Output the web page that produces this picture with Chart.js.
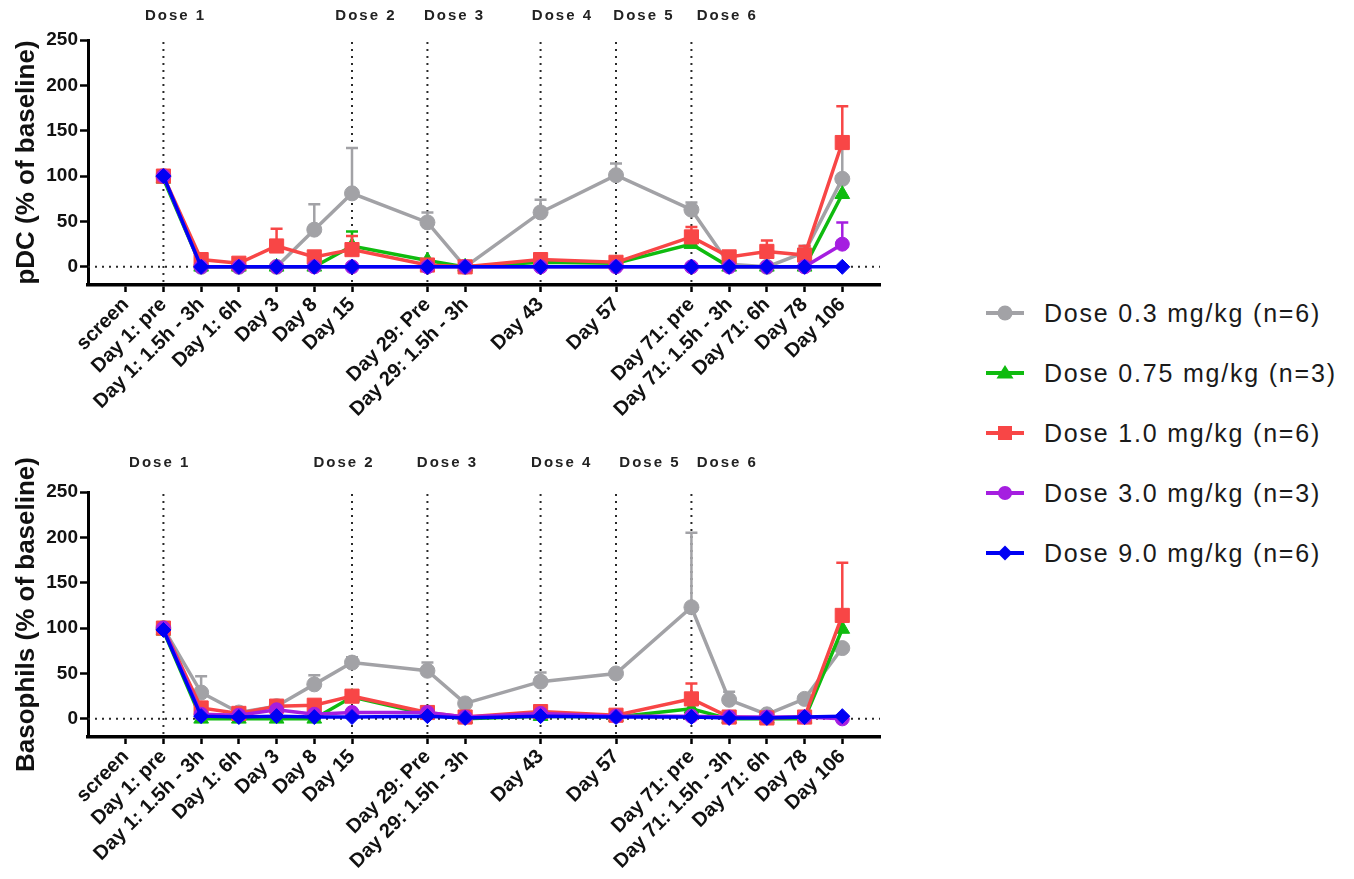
<!DOCTYPE html>
<html>
<head>
<meta charset="utf-8">
<title>pDC and Basophils</title>
<script src="https://cdn.jsdelivr.net/npm/chart.js@4.4.0/dist/chart.umd.min.js"></script>
<style>
    body { margin: 0; background: #fff; width: 1354px; height: 879px; position: relative; overflow: hidden;
           font-family: "Liberation Sans", Arial, sans-serif; }
    .panel { position: absolute; left: 0; }
    #legend { position: absolute; left: 986px; top: 283px; }
    .item { display: flex; align-items: center; height: 60px; font-size: 25px; letter-spacing: 1.8px; color: #1a1a1a; }
    .item svg { margin-right: 20px; }
</style>
</head>
<body>
<canvas id="pdc" class="panel" width="900" height="452" style="top:0"></canvas>
<canvas id="baso" class="panel" width="900" height="427" style="top:452px"></canvas>
<div id="legend"></div>

<script>
// x axis slots (blank ones are spacers)
const categories = ['', 'screen', 'Day 1: pre', 'Day 1: 1.5h - 3h', 'Day 1: 6h', 'Day 3', 'Day 8', 'Day 15', '',
    'Day 29: Pre', 'Day 29: 1.5h - 3h', '', 'Day 43', '', 'Day 57', '', 'Day 71: pre', 'Day 71: 1.5h - 3h',
    'Day 71: 6h', 'Day 78', 'Day 106', ''];

// timepoints that have values
const sampled = ['Day 1: pre', 'Day 1: 1.5h - 3h', 'Day 1: 6h', 'Day 3', 'Day 8', 'Day 15', 'Day 29: Pre',
    'Day 29: 1.5h - 3h', 'Day 43', 'Day 57', 'Day 71: pre', 'Day 71: 1.5h - 3h', 'Day 71: 6h', 'Day 78', 'Day 106'];

const doses = ['Dose 0.3 mg/kg (n=6)', 'Dose 0.75 mg/kg (n=3)', 'Dose 1.0 mg/kg (n=6)',
    'Dose 3.0 mg/kg (n=3)', 'Dose 9.0 mg/kg (n=6)'];

const doseDays = ['Day 1: pre', 'Day 15', 'Day 29: Pre', 'Day 43', 'Day 57', 'Day 71: pre'];
const doseNames = ['Dose 1', 'Dose 2', 'Dose 3', 'Dose 4', 'Dose 5', 'Dose 6'];

const yTicks = [0, 50, 100, 150, 200, 250];

// pDC (% of baseline), mean and upper SEM
const pdc03 = [100, 0, 0, 0, 41, 81, 49, 0, 60, 101, 63, 3, 0, 16, 97];
const pdc03Sem = [0, 0, 0, 0, 28, 50, 11, 0, 14, 13, 8, 0, 0, 7, 40];
const pdc075 = [97, 0, 0, 0, 0, 23, 7, 0, 5, 4, 25, 0, 0, 0, 80];
const pdc075Sem = [0, 0, 0, 0, 0, 16, 0, 0, 0, 0, 5, 0, 0, 0, 0];
const pdc10 = [100, 8, 4, 23, 11, 19, 2, 0, 8, 5, 33, 11, 17, 13, 137];
const pdc10Sem = [0, 0, 0, 19, 0, 15, 0, 0, 0, 0, 11, 0, 12, 10, 40];
const pdc30 = [100, 0, 0, 0, 0, 0, 0, 0, 0, 0, 0, 0, 0, 0, 25];
const pdc30Sem = [0, 0, 0, 0, 0, 0, 0, 0, 0, 0, 0, 0, 0, 0, 24];
const pdc90 = [100, 0, 0, 0, 0, 0, 0, 0, 0, 0, 0, 0, 0, 0, 0];
const pdc90Sem = [0, 0, 0, 0, 0, 0, 0, 0, 0, 0, 0, 0, 0, 0, 0];

// Basophils (% of baseline), mean and upper SEM
const baso03 = [100, 29, 7, 14, 38, 62, 53, 17, 41, 50, 123, 21, 5, 22, 78];
const baso03Sem = [0, 18, 0, 0, 10, 6, 9, 0, 10, 0, 82, 9, 0, 4, 0];
const baso075 = [97, 0, 0, 0, 0, 24, 5, 0, 3, 2, 11, 0, 0, 0, 99];
const baso075Sem = [0, 0, 0, 0, 0, 0, 0, 0, 0, 0, 0, 0, 0, 0, 0];
const baso10 = [100, 12, 6, 14, 15, 25, 7, 2, 8, 4, 22, 2, 1, 2, 114];
const baso10Sem = [0, 0, 0, 0, 0, 0, 0, 0, 0, 0, 17, 0, 0, 0, 58];
const baso30 = [100, 5, 4, 10, 5, 7, 7, 2, 6, 3, 3, 2, 2, 2, 0];
const baso30Sem = [0, 0, 0, 0, 0, 0, 0, 0, 0, 0, 0, 0, 0, 0, 0];
const baso90 = [98, 3, 2, 3, 2, 2, 3, 1, 3, 2, 2, 1, 1, 2, 3];
const baso90Sem = [0, 0, 0, 0, 0, 0, 0, 0, 0, 0, 0, 0, 0, 0, 0];

const colors = ['#a2a2a6', '#0fbb0f', '#f84646', '#a51ee0', '#0000f4'];
const shapes = ['circle', 'triangle', 'rect', 'circle', 'rectRot'];
const radii = [7.5, 8.5, 10, 7, 7.5];
const FONT = '"Liberation Sans", Arial, sans-serif';

// put sampled values onto the axis slots
function spread(vals) {
    return categories.map(c => {
        const k = sampled.indexOf(c);
        return k < 0 ? null : vals[k];
    });
}

// dotted reference lines + dose labels
const overlayPlugin = {
    id: 'overlay',
    beforeDatasetsDraw(chart, args, opts) {
        const { ctx, chartArea, scales: { x, y } } = chart;
        ctx.save();
        ctx.strokeStyle = '#2a2a2a';
        ctx.lineWidth = 2;
        ctx.setLineDash([2, 5]);
        const y0 = y.getPixelForValue(0);
        ctx.beginPath();
        ctx.moveTo(chartArea.left, y0);
        ctx.lineTo(chartArea.right, y0);
        ctx.stroke();
        doseDays.forEach(d => {
            const px = x.getPixelForValue(categories.indexOf(d));
            ctx.beginPath();
            ctx.moveTo(px, chartArea.top + 2);
            ctx.lineTo(px, chartArea.bottom);
            ctx.stroke();
        });
        ctx.restore();
    },
    afterDraw(chart, args, opts) {
        const { ctx, scales: { x } } = chart;
        ctx.save();
        ctx.fillStyle = '#222';
        ctx.font = 'bold 15px ' + FONT;
        ctx.letterSpacing = '2px';
        ctx.textAlign = 'center';
        ctx.textBaseline = 'middle';
        doseDays.forEach((d, i) => {
            const px = x.getPixelForValue(categories.indexOf(d) + opts.shift[i]);
            ctx.fillText(doseNames[i], px, opts.labelY);
        });
        ctx.restore();
    }
};

// upper error bars, drawn under each dataset's own line
const errorBarPlugin = {
    id: 'errorBars',
    beforeDatasetDraw(chart, args) {
        const ds = chart.data.datasets[args.index];
        if (!ds.sem) return;
        const { ctx, scales: { y } } = chart;
        ctx.save();
        ctx.strokeStyle = ds.borderColor;
        ctx.lineWidth = 2.5;
        args.meta.data.forEach((pt, j) => {
            const s = ds.sem[j];
            if (!s || ds.data[j] === null) return;
            const top = y.getPixelForValue(ds.data[j] + s);
            ctx.beginPath();
            ctx.moveTo(pt.x, pt.y);
            ctx.lineTo(pt.x, top);
            ctx.moveTo(pt.x - 6, top);
            ctx.lineTo(pt.x + 6, top);
            ctx.stroke();
        });
        ctx.restore();
    }
};

function makeChart(id, title, means, sems, shift, labelY) {
    const canvas = document.getElementById(id);
    new Chart(canvas, {
        type: 'line',
        data: {
            labels: categories,
            datasets: doses.map((d, i) => ({
                label: d,
                data: spread(means[i]),
                sem: spread(sems[i]),
                borderColor: colors[i],
                backgroundColor: colors[i],
                borderWidth: 3.5,
                pointStyle: shapes[i],
                pointRadius: radii[i],
                pointBorderWidth: 1,
                spanGaps: true,
                tension: 0,
                order: doses.length - 1 - i
            }))
        },
        options: {
            responsive: false,
            animation: false,
            layout: { padding: { top: 40, right: 20, left: 0, bottom: 0 } },
            plugins: {
                legend: { display: false },
                tooltip: { enabled: false },
                overlay: { shift: shift, labelY: labelY }
            },
            scales: {
                x: {
                    type: 'category',
                    offset: false,
                    grid: {
                        drawOnChartArea: false,
                        tickLength: 7,
                        tickWidth: 2.5,
                        tickColor: c => categories[c.index] ? '#000' : 'rgba(0,0,0,0)'
                    },
                    border: { width: 3.5, color: '#000' },
                    ticks: {
                        autoSkip: false,
                        maxRotation: 45,
                        minRotation: 45,
                        padding: 1,
                        color: '#111',
                        font: { family: FONT, size: 20, weight: 'bold' }
                    },
                    afterFit: s => { s.height = canvas.height - 285; }
                },
                y: {
                    min: -20,
                    max: 250,
                    afterBuildTicks: s => { s.ticks = yTicks.map(v => ({ value: v })); },
                    grid: { drawOnChartArea: false, tickLength: 8, tickWidth: 2.5, tickColor: '#000' },
                    border: { width: 3, color: '#000' },
                    ticks: { padding: 2, color: '#111', font: { family: FONT, size: 19, weight: 'bold' } },
                    title: {
                        display: true,
                        text: title,
                        color: '#111',
                        font: { family: FONT, size: 26, weight: 'bold' },
                        padding: { top: 11, bottom: 0 }
                    },
                    afterFit: s => { s.width = 88; }
                }
            }
        },
        plugins: [overlayPlugin, errorBarPlugin]
    });
}

function buildLegend() {
    const marks = [
        '<circle cx="19" cy="10" r="7.5"/>',
        '<polygon points="19,2 27.5,15.5 10.5,15.5"/>',
        '<rect x="12" y="3" width="14" height="14"/>',
        '<circle cx="19" cy="10" r="7"/>',
        '<polygon points="19,2.5 26.5,10 19,17.5 11.5,10"/>'
    ];
    const legend = document.getElementById('legend');
    doses.forEach((d, i) => {
        const row = document.createElement('div');
        row.className = 'item';
        row.innerHTML = `
            <svg width="38" height="20" viewBox="0 0 38 20">
                <line x1="0" y1="10" x2="38" y2="10" stroke="${colors[i]}" stroke-width="4"/>
                <g fill="${colors[i]}">${marks[i]}</g>
            </svg>
            <span>${d}</span>`;
        legend.appendChild(row);
    });
}

makeChart('pdc', 'pDC (% of baseline)',
    [pdc03, pdc075, pdc10, pdc30, pdc90],
    [pdc03Sem, pdc075Sem, pdc10Sem, pdc30Sem, pdc90Sem],
    [0.32, 0.37, 0.72, 0.58, 0.74, 0.95], 15.5);

makeChart('baso', 'Basophils (% of baseline)',
    [baso03, baso075, baso10, baso30, baso90],
    [baso03Sem, baso075Sem, baso10Sem, baso30Sem, baso90Sem],
    [-0.1, -0.21, 0.53, 0.56, 0.9, 0.95], 11);

buildLegend();
</script>
</body>
</html>
